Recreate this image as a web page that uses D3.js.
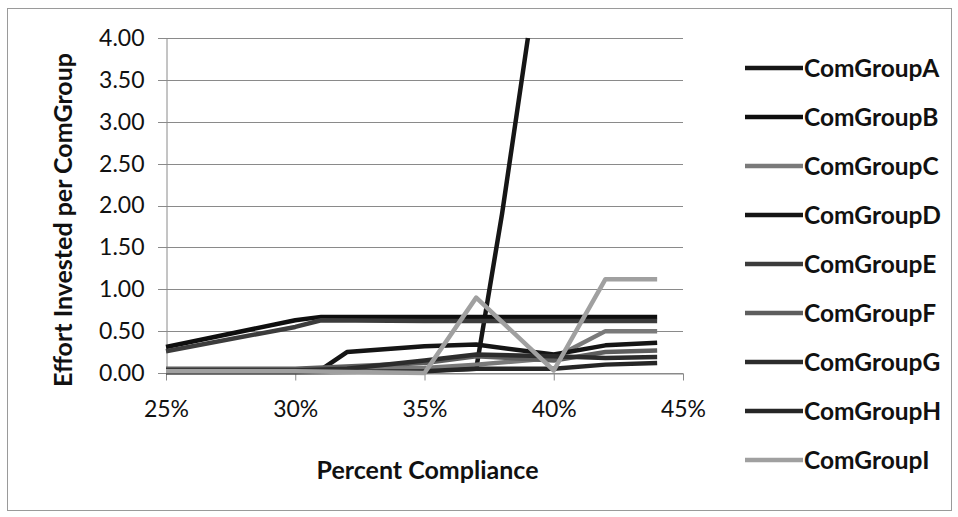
<!DOCTYPE html>
<html>
<head>
<meta charset="utf-8">
<script src="https://cdn.jsdelivr.net/npm/d3@7"></script>
<style>
  html, body { margin: 0; padding: 0; background: #fff; }
  svg { display: block; }
  text { font-family: Lato, "Open Sans", sans-serif; fill: #111; }
</style>
</head>
<body>
<svg id="chart" width="958" height="517"></svg>
<script>
// ---- data (percent compliance, effort) ----
const seriesNames = ["ComGroupA","ComGroupB","ComGroupC","ComGroupD","ComGroupE","ComGroupF","ComGroupG","ComGroupH","ComGroupI"];
const comGroupA = [[25,0.03],[30,0.03],[35,0.03],[37,0.05],[38,1.9],[39,4.0]];
const comGroupB = [[25,0.31],[30,0.63],[31,0.67],[35,0.67],[40,0.67],[44,0.67]];
const comGroupC = [[25,0.04],[30,0.04],[35,0.06],[37,0.1],[40,0.18],[42,0.5],[44,0.5]];
const comGroupD = [[25,0.02],[30,0.02],[31,0.04],[32,0.25],[35,0.32],[37,0.34],[40,0.22],[42,0.33],[44,0.36]];
const comGroupE = [[25,0.26],[30,0.55],[31,0.63],[35,0.62],[40,0.62],[44,0.62]];
const comGroupF = [[25,0.05],[30,0.05],[35,0.12],[37,0.2],[40,0.15],[42,0.25],[44,0.27]];
const comGroupG = [[25,0.03],[30,0.03],[32,0.05],[35,0.15],[37,0.22],[40,0.2],[42,0.18],[44,0.19]];
const comGroupH = [[25,0.01],[30,0.01],[35,0.02],[37,0.05],[40,0.05],[42,0.1],[44,0.12]];
const comGroupI = [[25,0.02],[30,0.02],[35,0.0],[37,0.9],[40,0.03],[42,1.12],[44,1.12]];
const seriesData = [comGroupA,comGroupB,comGroupC,comGroupD,comGroupE,comGroupF,comGroupG,comGroupH,comGroupI];
const seriesColors = ["#161616","#0e0e0e","#7a7a7a","#151515","#3c3c3c","#5e5e5e","#2c2c2c","#262626","#a0a0a0"];
const xTickValues = [25,30,35,40,45];
const yTickValues = [0,0.5,1,1.5,2,2.5,3,3.5,4];
const xTitle = "Percent Compliance";
const yTitle = "Effort Invested per ComGroup";

// ---- layout ----
const svg = d3.select("#chart");
const plot = {left:166, right:683, top:38, bottom:373};
const x = d3.scaleLinear().domain([25,45]).range([plot.left, plot.right]);
const y = d3.scaleLinear().domain([0,4]).range([plot.bottom, plot.top]);

// outer border
svg.append("rect").attr("x",7.5).attr("y",8.5).attr("width",944).attr("height",502)
  .attr("fill","none").attr("stroke","#9a9a9a").attr("stroke-width",1);

// gridlines + y axis ticks
svg.append("g").selectAll("line").data(yTickValues).join("line")
  .attr("x1",plot.left-8).attr("x2",plot.right)
  .attr("y1",d=>Math.round(y(d))+0.5).attr("y2",d=>Math.round(y(d))+0.5)
  .attr("stroke","#8a8a8a").attr("stroke-width",1);

// y axis
const yAxis = d3.axisLeft(y).tickValues(yTickValues).tickFormat(d3.format(".2f")).tickSize(0).tickPadding(22);
const gy = svg.append("g").attr("transform",`translate(${plot.left+0.5},0)`).call(yAxis);
gy.select(".domain").attr("stroke","#8a8a8a");
gy.selectAll("text").style("font-family","Lato, sans-serif").style("font-size","23px").attr("fill","#111");

// x axis
const xAxis = d3.axisBottom(x).tickValues(xTickValues).tickFormat(d=>d+"%").tickSize(7).tickSizeOuter(0).tickPadding(20);
const gx = svg.append("g").attr("transform",`translate(0,${plot.bottom+0.5})`).call(xAxis);
gx.select(".domain").attr("stroke","#8a8a8a");
gx.selectAll(".tick line").attr("stroke","#8a8a8a");
gx.selectAll("text").style("font-family","Lato, sans-serif").style("font-size","23px").attr("fill","#111");

// series lines
const line = d3.line().x(d=>x(d[0])).y(d=>y(d[1]));
svg.append("g").selectAll("path").data(seriesData).join("path")
  .attr("d",line).attr("fill","none")
  .attr("stroke",(d,i)=>seriesColors[i]).attr("stroke-width",4.5)
  .attr("stroke-linejoin","round").attr("stroke-linecap","butt");

// axis titles
svg.append("text").attr("x",(plot.left+plot.right)/2 + 3).attr("y",479)
  .attr("text-anchor","middle").style("font-size","25px").style("font-weight","bold").text(xTitle);
svg.append("text").attr("transform","translate(72,220) rotate(-90)")
  .attr("text-anchor","middle").style("font-size","25px").style("font-weight","bold").text(yTitle);

// legend
const legend = svg.append("g").selectAll("g").data(seriesNames).join("g")
  .attr("transform",(d,i)=>`translate(745,${68+i*49})`);
legend.append("line").attr("x1",0).attr("x2",58).attr("y1",0).attr("y2",0)
  .attr("stroke",(d,i)=>seriesColors[i]).attr("stroke-width",4.5);
legend.append("text").attr("x",59).attr("y",0).attr("dy","0.35em")
  .style("font-size","24.5px").style("font-weight","bold").text(d=>d);
</script>
</body>
</html>
